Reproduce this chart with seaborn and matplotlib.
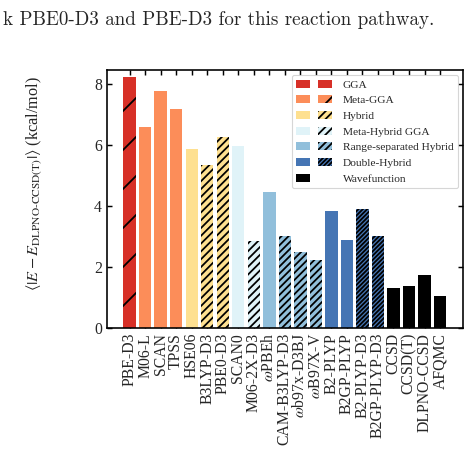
import matplotlib
matplotlib.use("Agg")
import matplotlib.pyplot as plt
import seaborn as sns
import pandas as pd
from matplotlib.patches import Patch
from matplotlib.legend_handler import HandlerTuple

# ---------------- data ----------------
methods = ["PBE-D3", "M06-L", "SCAN", "TPSS", "HSE06", "B3LYP-D3", "PBE0-D3",
           "SCAN0", "M06-2X-D3", r"$\omega$PBEh", "CAM-B3LYP-D3",
           r"$\omega$b97x-D3BJ", r"$\omega$B97X-V", "B2-PLYP", "B2GP-PLYP",
           "B2-PLYP-D3", "B2GP-PLYP-D3", "CCSD", "CCSD(T)", "DLPNO-CCSD", "AFQMC"]
errors = [8.22, 6.60, 7.77, 7.18, 5.88, 5.33, 6.25,
          5.97, 2.86, 4.45, 3.03,
          2.50, 2.23, 3.85, 2.87,
          3.89, 3.02, 1.31, 1.39, 1.74, 1.04]
families = ["GGA", "Meta-GGA", "Meta-GGA", "Meta-GGA", "Hybrid", "Hybrid", "Hybrid",
            "Meta-Hybrid GGA", "Meta-Hybrid GGA", "Range-separated Hybrid",
            "Range-separated Hybrid", "Range-separated Hybrid", "Range-separated Hybrid",
            "Double-Hybrid", "Double-Hybrid", "Double-Hybrid", "Double-Hybrid",
            "Wavefunction", "Wavefunction", "Wavefunction", "Wavefunction"]
dispersion = [True, False, False, False, False, True, True,
              False, True, False, True, True, True,
              False, False, True, True,
              False, False, False, False]

family_names = ["GGA", "Meta-GGA", "Hybrid", "Meta-Hybrid GGA",
                "Range-separated Hybrid", "Double-Hybrid", "Wavefunction"]
family_colors = ["#d73027", "#fc8d59", "#fee090", "#e0f3f8",
                 "#91bfdb", "#4575b4", "#000000"]
family_hatches = ["/" * 2, "/" * 4, "/" * 10, "/" * 10, "/" * 11, "/" * 18, ""]

caption = "k PBE0-D3 and PBE-D3 for this reaction pathway."
ylabel = r"$\langle|E - E_{\mathrm{DLPNO}\text{-}\mathrm{CCSD(T)}}|\rangle$ (kcal/mol)"

# ---------------- style ----------------
DPI = 234
sns.set_style("ticks")
plt.rcParams["font.family"] = ["Liberation Serif", "DejaVu Serif"]
plt.rcParams["mathtext.fontset"] = "stix"
plt.rcParams["hatch.linewidth"] = 0.55

df = pd.DataFrame({"method": methods, "error": errors, "family": families})
palette = {m: family_colors[family_names.index(f)] for m, f in zip(methods, families)}

fig = plt.figure(figsize=(474 / DPI, 460 / DPI), dpi=DPI)
ax = fig.add_axes([107 / 474, 1 - 328 / 460, (463 - 107) / 474, (328 - 70) / 460])

sns.barplot(data=df, x="method", y="error", hue="method", palette=palette,
            width=0.8, saturation=1, edgecolor="black", linewidth=0,
            legend=False, ax=ax)

bars = sorted(ax.patches, key=lambda p: p.get_x())
for bar, fam, disp in zip(bars, families, dispersion):
    if disp:
        bar.set_hatch(family_hatches[family_names.index(fam)])

ax.set_xlim(-1.46, len(methods) - 1 + 1.48)
ax.set_ylim(0, 8.46)
ax.set_yticks([0, 2, 4, 6, 8])
ax.set_xticks(range(len(methods)))
ax.set_xticklabels(methods, rotation=90)
ax.set_xlabel("")
ax.set_ylabel(ylabel, fontsize=5.0)
ax.yaxis.set_label_coords(-0.177, 0.558)
ax.tick_params(axis="both", direction="in", top=True, right=True,
               length=1.6, width=0.45, labelsize=4.85, pad=1.5, color="black")
for s in ax.spines.values():
    s.set_linewidth(0.5)
    s.set_color("black")

# legend
handles = []
for name, col, hat in zip(family_names, family_colors, family_hatches):
    p1 = Patch(facecolor=col, linewidth=0)
    if hat:
        p2 = Patch(facecolor=col, hatch=hat, edgecolor="black", linewidth=0)
    else:
        p2 = Patch(facecolor="none", edgecolor="none", linewidth=0)
    handles.append((p1, p2))
leg = ax.legend(handles, family_names, loc="upper right", fontsize=3.5,
                handler_map={tuple: HandlerTuple(ndivide=None, pad=0.7)},
                handlelength=3.2, handleheight=0.7, handletextpad=0.9,
                labelspacing=0.5, borderpad=0.4, borderaxespad=0.45,
                frameon=True, fancybox=True)
leg.get_frame().set_linewidth(0.35)

fig.text(3 / 474, 1 - 25 / 460, caption, family="cmr10", fontsize=5.87,
         ha="left", va="baseline")

fig.savefig("out.png", dpi=DPI)
